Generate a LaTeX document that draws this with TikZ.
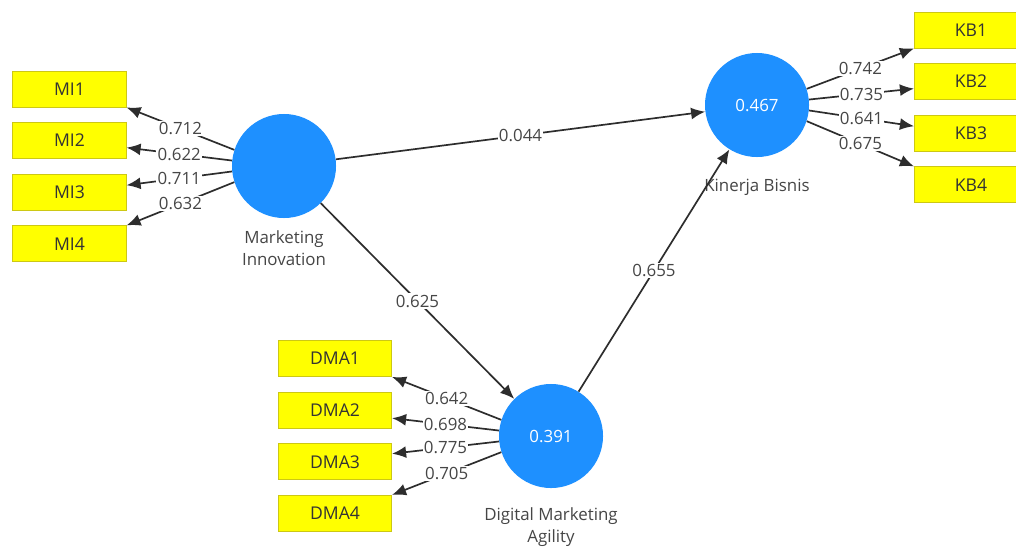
\documentclass[tikz,border=0pt]{standalone}
\usepackage{fontspec}
\setmainfont{Open Sans}
\usetikzlibrary{arrows.meta,positioning}
\definecolor{lvblue}{RGB}{30,144,255}
\definecolor{indyellow}{RGB}{255,255,0}
\definecolor{indedge}{RGB}{205,200,20}
\definecolor{pathgray}{RGB}{45,45,45}
\definecolor{textgray}{RGB}{70,70,70}

\begin{document}
\begin{tikzpicture}[x=0.025cm,y=-0.025cm,node distance=1.29cm,on grid,
    >={Latex[length=10pt,width=8.5pt]},
    latent/.style={circle,fill=lvblue,minimum size=2.6cm,inner sep=0pt,text=white,font=\fontsize{12}{14}\selectfont},
    indicator/.style={rectangle,fill=indyellow,draw=indedge,line width=0.6pt,minimum width=2.83cm,minimum height=0.9cm,text=black!80,font=\fontsize{12.5}{14}\selectfont},
    caption/.style={align=center,text=textgray,font=\fontsize{12}{16}\selectfont},
    load/.style={fill=white,inner sep=1pt,text=textgray,font=\fontsize{12}{14}\selectfont}]
                \useasboundingbox[fill=white] (0,0) rectangle (1016,547);
                \clip (0,0) rectangle (1016,547);
                % latent variables
                \node[latent](mi) at (284,166) {};
                \node[latent](kb) at (757,105) {0.467};
                \node[latent](dma) at (551,436) {0.391};
                \node[caption,below=2.05cm of mi] (milbl) {Marketing\\Innovation};
                \node[caption,below=2.05cm of kb] (kblbl) {Kinerja Bisnis};
                \node[caption,below=2.28cm of dma] (dmalbl) {Digital Marketing\\Agility};
                % indicators
                \node[indicator](mi1) at (69.5,89) {MI1};
                \node[indicator](mi2) [below= of mi1]{MI2};
                \node[indicator](mi3) [below= of mi2]{MI3};
                \node[indicator](mi4) [below= of mi3]{MI4};
                \node[indicator](kb1) at (971,30) {KB1};
                \node[indicator](kb2) [below= of kb1]{KB2};
                \node[indicator](kb3) [below= of kb2]{KB3};
                \node[indicator](kb4) [below= of kb3]{KB4};
                \node[indicator](dma1) at (335,358.5) {DMA1};
                \node[indicator](dma2) [below= of dma1]{DMA2};
                \node[indicator](dma3) [below= of dma2]{DMA3};
                \node[indicator](dma4) [below= of dma3]{DMA4};
                % outer loadings
                \path[->,color=pathgray,line width=1.2pt]
                (mi.162) edge node[load]{0.712}(mi1.south east)
                (mi.174) edge node[load]{0.622}(mi2.-7)
                (mi.186) edge node[load]{0.711}(mi3.7)
                (mi.198) edge node[load]{0.632}(mi4.north east)
                (kb.18) edge node[load]{0.742}(kb1.south west)
                (kb.6) edge node[load]{0.735}(kb2.-173)
                (kb.-6) edge node[load]{0.641}(kb3.173)
                (kb.-18) edge node[load]{0.675}(kb4.north west)
                (dma.162) edge node[load]{0.642}(dma1.south east)
                (dma.174) edge node[load]{0.698}(dma2.-8)
                (dma.186) edge node[load]{0.775}(dma3.8)
                (dma.198) edge node[load]{0.705}(dma4.north east);
                % path coefficients
                \path[->,color=pathgray,line width=1.2pt]
                (mi) edge node[load]{0.044}(kb)
                (mi) edge node[load]{0.625}(dma)
                (dma) edge node[load]{0.655}(kb);
            \end{tikzpicture}
\end{document}
